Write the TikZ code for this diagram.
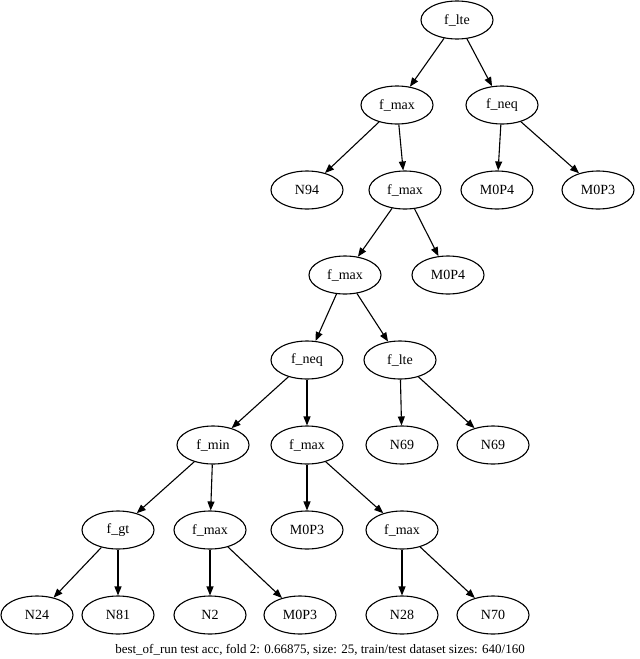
\documentclass[tikz,border=0pt]{standalone}
\usepackage{fontspec}
\setmainfont{Liberation Serif}
\usetikzlibrary{shapes.geometric,arrows.meta}
\begin{document}
\begin{tikzpicture}[x=1pt,y=-1pt,
  nd/.style={draw,line width=1.1pt,ellipse,minimum width=72pt,minimum height=38pt,inner sep=0pt,font=\fontsize{14}{16}\selectfont},
  ed/.style={line width=1.1pt,-{Triangle[length=9pt,width=7pt]}}]
\useasboundingbox (0,0) rectangle (640,659);
\node[nd] (a) at (457,20) {f\_lte};
\node[nd] (b) at (397,105) {f\_max};
\node[nd] (c) at (502,105) {f\_neq};
\node[nd] (d) at (307,190) {N94};
\node[nd] (e) at (405,190) {f\_max};
\node[nd] (f) at (497,190) {M0P4};
\node[nd] (g) at (598,190) {M0P3};
\node[nd] (h) at (345,275) {f\_max};
\node[nd] (i) at (448,275) {M0P4};
\node[nd] (j) at (307,360) {f\_neq};
\node[nd] (k) at (400,360) {f\_lte};
\node[nd] (l) at (213,445) {f\_min};
\node[nd] (m) at (307,445) {f\_max};
\node[nd] (n) at (402,445) {N69};
\node[nd] (o) at (493,445) {N69};
\node[nd] (p) at (118,530) {f\_gt};
\node[nd] (q) at (210,530) {f\_max};
\node[nd] (r) at (307,530) {M0P3};
\node[nd] (s) at (402,530) {f\_max};
\node[nd] (t) at (37,615) {N24};
\node[nd] (u) at (118,615) {N81};
\node[nd] (v) at (210,615) {N2};
\node[nd] (w) at (300,615) {M0P3};
\node[nd] (x) at (402,615) {N28};
\node[nd] (y) at (493,615) {N70};
\node[font=\fontsize{13}{15}\selectfont] (cap) at (320,650) {best\_of\_run test acc, fold 2: 0.66875, size: 25, train/test dataset sizes: 640/160};
\foreach \s/\t in {a/b,a/c,b/d,b/e,c/f,c/g,e/h,e/i,h/j,h/k,j/l,j/m,k/n,k/o,l/p,l/q,m/r,m/s,p/t,p/u,q/v,q/w,s/x,s/y}
  \draw[ed] (\s) -- (\t);
\end{tikzpicture}
\end{document}
